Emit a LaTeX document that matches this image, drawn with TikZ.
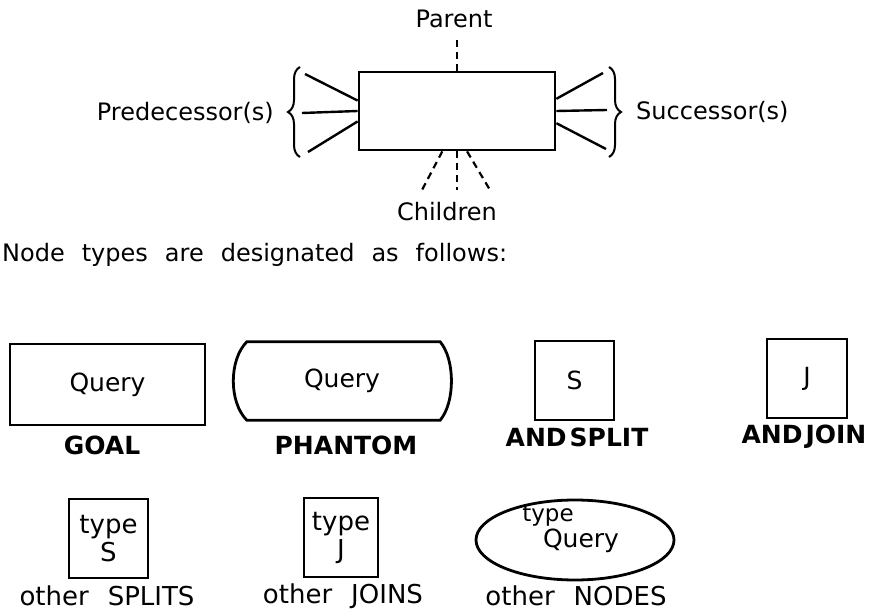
\documentclass[tikz,border=0pt]{standalone}
\usepackage{fontspec}
\setmainfont{DejaVu Sans}
\usetikzlibrary{positioning,calc,shapes.geometric,decorations.pathreplacing}

\begin{document}
\begin{tikzpicture}[
    x=1pt, y=-1pt,
    every node/.style={font=\fontsize{24}{26}\selectfont, inner sep=0pt},
    box/.style={draw, line width=2.8pt, minimum width=#1, minimum height=79pt, align=center},
    box/.default=79pt,
    arm/.style={line width=2.4pt},
    link/.style={line width=2.2pt, dash pattern=on 7pt off 5pt},
    curly/.style={line width=2pt, decorate, decoration={brace, amplitude=12pt}},
    caption/.style={font=\fontsize{25}{28}\selectfont\bfseries},
    other/.style={font=\fontsize{26}{28}\selectfont},
    inside/.style={font=\fontsize{25}{28}\selectfont}
]
    \useasboundingbox (0,0) rectangle (876,615);

    % the general node and its neighbours
    \node[box=196pt, minimum height=78pt] (task) at (457,111) {};
    \node (parent) at (454,19) {Parent};
    \node (children) at (447,212) {Children};
    \node[anchor=east] (pred) at (274,113) {Predecessor(s)};
    \node[anchor=west] (succ) at (636,112) {Successor(s)};
    \coordinate (pa) at (457,37);
    \coordinate (pr1) at (305,74);
    \coordinate (pr2) at (302,113);
    \coordinate (pr3) at (308,152);
    \coordinate (su1) at (603,73);
    \coordinate (su2) at (607,110);
    \coordinate (su3) at (606,149);
    \coordinate (ch1) at (422,190);
    \coordinate (ch2) at (457,190);
    \coordinate (ch3) at (490,190);
    \draw[link] (task.north) -- (pa);
    \foreach \a/\c in {250/ch1, 270/ch2, 284/ch3}
        \draw[link] (task.\a) -- (\c);
    \foreach \a/\c in {174/pr1, 180/pr2, 186/pr3, 7/su1, 0/su2, 353/su3}
        \draw[arm] (task.\a) -- (\c);
    \draw[curly] (300,157) -- (300,67);
    \draw[curly] (609,67) -- (609,157);

    \node[anchor=west, execute at begin node={\spaceskip=17pt plus 1pt}] (intro) at (2,255) {Node types are designated as follows:};

    % node types
    \node[box=195pt, minimum height=81pt, inside] (goal) at (107.5,384.5) {Query};
    \node[caption] (goallbl) at (102,445) {GOAL};
    \node[minimum width=222pt, minimum height=78pt, inside] (phantom) at (342,381) {Query};
    \draw[line width=2.8pt]
        ([xshift=16pt]phantom.north west) -- ([xshift=-13pt]phantom.north east)
        .. controls ([xshift=2pt,yshift=-18pt]phantom.north east) and ([xshift=2pt,yshift=18pt]phantom.south east) .. ([xshift=-13pt]phantom.south east)
        -- ([xshift=16pt]phantom.south west)
        .. controls ([xshift=-2pt,yshift=18pt]phantom.south west) and ([xshift=-2pt,yshift=-18pt]phantom.north west) .. ([xshift=16pt]phantom.north west) -- cycle;
    \node[caption] (phantomlbl) at (346,445) {PHANTOM};
    \node[box, inside] (andsplit) at (574.5,380.5) {S};
    \node[caption] (andsplitlbl) at (577,437) {AND\hspace{3pt}SPLIT};
    \node[box=80pt, inside] (andjoin) at (807,378.5) {J};
    \node[caption] (andjoinlbl) at (804,437) {AND\hspace{3pt}JOIN};

    \node[box, other] (splits) at (108.5,538.5) {type\\S};
    \node[other] (splitslbl) at (107,596) {other\hspace{19pt}SPLITS};
    \node[box=74pt, other] (joins) at (341,537.5) {type\\J};
    \node[other] (joinslbl) at (343,596) {other\hspace{19pt}JOINS};
    \node[draw, ellipse, line width=2.8pt, minimum width=198pt, minimum height=80pt] (oval) at (575,540) {};
    \node[font=\fontsize{23}{26}\selectfont] (ovaltype) at (548,516) {type};
    \node[inside] (ovalquery) at (581,541) {Query};
    \node[other] (ovallbl) at (576,596) {other\hspace{19pt}NODES};
\end{tikzpicture}
\end{document}
